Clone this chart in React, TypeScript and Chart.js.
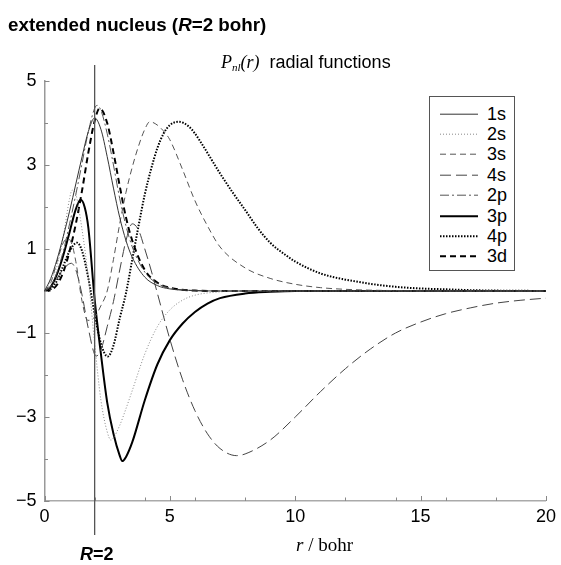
import React, { useEffect, useRef } from "react";
import { Chart, registerables } from "chart.js";
Chart.register(...registerables);

// ---- tick values ----
const xTicks = [0, 5, 10, 15, 20];
const xMinorTicks = [2, 4, 6, 8, 12, 14, 16, 18];
const yTicks = [-5, -3, -1, 1, 3, 5];
const yMinorTicks = [-4, -2, 0, 2, 4];
const nucleusR = 2;

const seriesNames = ["1s", "2s", "3s", "4s", "2p", "3p", "4p", "3d"];

// ---- radial functions P_nl(r) (r in bohr) ----
const r1s = [0, 0.25, 0.5, 0.75, 1, 1.25, 1.5, 1.75, 2, 2.25, 2.5, 2.75, 3, 3.25, 3.5, 4, 4.5, 5, 6, 7, 20];
const p1s = [0, 0.3, 0.75, 1.3, 1.9, 2.55, 3.2, 3.8, 4.12, 3.85, 3.2, 2.45, 1.75, 1.2, 0.8, 0.33, 0.13, 0.05, 0.01, 0, 0];

const r2s = [0, 0.25, 0.5, 0.75, 1, 1.1, 1.25, 1.5, 1.75, 2, 2.25, 2.5, 2.65, 2.75, 3, 3.25, 3.5, 4, 4.5, 5, 5.5, 6, 7, 8, 20];
const p2s = [0, 0.25, 0.6, 1.3, 2.2, 2.4, 2.3, 1.45, 0.3, -1.25, -2.6, -3.35, -3.55, -3.5, -3.2, -2.8, -2.37, -1.5, -0.85, -0.45, -0.22, -0.1, -0.02, 0, 0];

const r3s = [0, 0.25, 0.5, 0.75, 0.94, 1.1, 1.25, 1.5, 1.73, 2, 2.25, 2.5, 2.75, 3, 3.25, 3.5, 3.75, 4, 4.2, 4.5, 4.83, 5, 5.5, 6, 6.5, 7, 8, 9, 10, 11, 12, 13, 14, 15, 20];
const p3s = [0, 0.2, 0.7, 1.15, 1.25, 1.1, 0.7, -0.25, -0.7, -0.62, -0.35, 0.0, 0.75, 1.6, 2.35, 2.95, 3.45, 3.85, 4.03, 3.95, 3.75, 3.6, 2.9, 2.15, 1.55, 1.05, 0.55, 0.3, 0.16, 0.08, 0.04, 0.02, 0.01, 0, 0];

const r4s = [0, 0.25, 0.5, 0.75, 1.07, 1.25, 1.5, 1.75, 2.06, 2.25, 2.5, 2.75, 3, 3.25, 3.5, 3.75, 4, 4.25, 4.5, 5, 5.5, 6, 6.5, 7, 7.66, 8, 9, 10, 11, 12, 13, 14, 15, 16, 17, 18, 19, 20];
const p4s = [0, 0.1, 0.3, 0.52, 0.66, 0.5, -0.1, -0.9, -1.55, -1.4, -0.85, -0.25, 0.5, 1.2, 1.6, 1.45, 1.0, 0.5, -0.05, -1.15, -2.1, -2.85, -3.4, -3.75, -3.92, -3.88, -3.55, -3.0, -2.4, -1.85, -1.38, -1.0, -0.74, -0.54, -0.4, -0.29, -0.22, -0.17];

const r2p = [0, 0.25, 0.5, 0.75, 1, 1.25, 1.5, 1.75, 2, 2.1, 2.25, 2.5, 2.75, 3, 3.25, 3.5, 4, 4.5, 5, 6, 7, 20];
const p2p = [0, 0.12, 0.45, 0.95, 1.6, 2.3, 3.05, 3.8, 4.35, 4.42, 4.3, 3.75, 3.0, 2.2, 1.55, 1.05, 0.45, 0.18, 0.07, 0.01, 0, 0];

const r3p = [0, 0.25, 0.5, 0.75, 1, 1.25, 1.44, 1.6, 1.75, 2, 2.25, 2.5, 2.75, 3, 3.1, 3.25, 3.5, 4, 4.5, 5, 5.5, 6, 6.5, 7, 8, 9, 10, 20];
const p3p = [0, 0.1, 0.4, 0.85, 1.4, 1.95, 2.17, 2.0, 1.5, -0.2, -1.5, -2.65, -3.4, -3.92, -4.05, -3.95, -3.6, -2.6, -1.75, -1.17, -0.78, -0.5, -0.3, -0.17, -0.06, -0.02, 0, 0];

const r4p = [0, 0.25, 0.5, 0.75, 1, 1.3, 1.5, 1.75, 2, 2.25, 2.52, 2.75, 3, 3.25, 3.5, 3.75, 4, 4.25, 4.5, 4.75, 5, 5.36, 5.75, 6, 6.34, 7, 7.5, 8, 8.5, 9, 9.7, 10, 11, 12, 12.5, 13, 14, 15, 16, 17, 18, 20];
const p4p = [0, 0.05, 0.25, 0.6, 0.95, 1.15, 0.95, 0.3, -0.55, -1.25, -1.56, -1.3, -0.65, -0.05, 0.75, 1.55, 2.3, 2.9, 3.4, 3.75, 3.95, 4.03, 3.92, 3.75, 3.44, 2.8, 2.35, 1.93, 1.5, 1.15, 0.82, 0.7, 0.42, 0.27, 0.22, 0.17, 0.1, 0.06, 0.04, 0.02, 0.01, 0];

const r3d = [0, 0.25, 0.5, 0.75, 1, 1.25, 1.5, 1.75, 2, 2.2, 2.5, 2.75, 3, 3.25, 3.5, 4, 4.5, 5, 6, 7, 20];
const p3d = [0, 0.02, 0.15, 0.45, 0.95, 1.6, 2.4, 3.3, 4.05, 4.35, 4.0, 3.3, 2.5, 1.75, 1.2, 0.5, 0.2, 0.08, 0.01, 0, 0];

const seriesR = [r1s, r2s, r3s, r4s, r2p, r3p, r4p, r3d];
const seriesP = [p1s, p2s, p3s, p4s, p2p, p3p, p4p, p3d];

// ---- styles ----
const lineStyles = [
  { color: "#333", width: 1, dash: [] as number[] },
  { color: "#888", width: 1, dash: [1, 2] },
  { color: "#555", width: 1, dash: [6, 4] },
  { color: "#444", width: 1, dash: [11, 5] },
  { color: "#555", width: 1, dash: [9, 3, 2, 3] },
  { color: "#000", width: 2, dash: [] as number[] },
  { color: "#000", width: 2, dash: [1.5, 1.5] },
  { color: "#000", width: 2, dash: [6, 4] },
];

const SANS = "'Liberation Sans', Arial, Helvetica, sans-serif";
const SERIF = "'Liberation Serif', 'Times New Roman', serif";

const fmt = (v: number) => (v < 0 ? "\u2212" + Math.abs(v) : String(v));

const decorPlugin = {
  id: "decor",
  afterDatasetsDraw(chart: any) {
    const { ctx, chartArea, scales } = chart;
    const x = scales.x;
    const y = scales.y;
    ctx.save();
    ctx.strokeStyle = "#888";
    ctx.lineWidth = 1;
    const yt = (v: number, len: number) => {
      const py = Math.round(y.getPixelForValue(v)) + 0.5;
      ctx.beginPath();
      ctx.moveTo(chartArea.left, py);
      ctx.lineTo(chartArea.left + len, py);
      ctx.stroke();
    };
    const xt = (v: number, len: number) => {
      const px = Math.round(x.getPixelForValue(v)) + 0.5;
      ctx.beginPath();
      ctx.moveTo(px, chartArea.bottom);
      ctx.lineTo(px, chartArea.bottom - len);
      ctx.stroke();
    };
    yTicks.forEach((v) => yt(v, 5));
    yMinorTicks.forEach((v) => yt(v, 3.5));
    xTicks.forEach((v) => xt(v, 5));
    xMinorTicks.forEach((v) => xt(v, 3.5));
    // nucleus radius line
    const px = x.getPixelForValue(nucleusR);
    ctx.strokeStyle = "#555";
    ctx.lineWidth = 1.3;
    ctx.beginPath();
    ctx.moveTo(px, chartArea.top - 16);
    ctx.lineTo(px, chartArea.bottom + 34);
    ctx.stroke();
    ctx.restore();
  },
};

export default function App() {
  const ref = useRef<HTMLCanvasElement>(null);

  useEffect(() => {
    if (!ref.current) return;
    const datasets = seriesNames.map((name, i) => ({
      label: name,
      data: seriesR[i].map((r, j) => ({ x: r, y: seriesP[i][j] })),
      borderColor: lineStyles[i].color,
      borderWidth: lineStyles[i].width,
      borderDash: lineStyles[i].dash,
      pointRadius: 0,
      fill: false,
      cubicInterpolationMode: "monotone" as const,
    }));
    const chart = new Chart(ref.current, {
      type: "line",
      data: { datasets },
      options: {
        animation: false,
        responsive: false,
        maintainAspectRatio: false,
        layout: { padding: { top: 81, right: 10, left: 0, bottom: 0 } },
        plugins: {
          legend: { display: false },
          title: { display: false },
          tooltip: { enabled: false },
        },
        scales: {
          x: {
            type: "linear",
            min: 0,
            max: 20,
            afterBuildTicks: (s: any) => {
              s.ticks = xTicks.map((v) => ({ value: v }));
            },
            afterFit: (s: any) => {
              s.height = 64;
            },
            grid: { display: false, drawTicks: false },
            border: { display: true, color: "#aaa", width: 1.5 },
            ticks: {
              font: { family: SANS, size: 18 },
              color: "#000",
              padding: 5,
              maxRotation: 0,
              autoSkip: false,
            },
          },
          y: {
            type: "linear",
            min: -5,
            max: 5,
            afterBuildTicks: (s: any) => {
              s.ticks = yTicks.map((v) => ({ value: v }));
            },
            afterFit: (s: any) => {
              s.width = 44.5;
            },
            grid: { display: false, drawTicks: false },
            border: { display: true, color: "#999", width: 1.5 },
            ticks: {
              font: { family: SANS, size: 18 },
              color: "#000",
              padding: 8,
              autoSkip: false,
              callback: (v: any) => fmt(Number(v)),
            },
          },
        },
      },
      plugins: [decorPlugin],
    });
    return () => chart.destroy();
  }, []);

  const legendTop = 95.5;
  const rowH = 20.4;

  return (
    <div
      style={{
        position: "fixed",
        left: 0,
        top: 0,
        width: 561,
        height: 565,
        background: "#fff",
        overflow: "hidden",
      }}
    >
      <canvas ref={ref} width={561} height={565} style={{ position: "absolute", left: 0, top: 0 }} />
      <div
        style={{
          position: "absolute",
          left: 8,
          top: 14,
          font: `bold 18.8px ${SANS}`,
          whiteSpace: "nowrap",
          color: "#000",
        }}
      >
        extended nucleus (<i>R</i>=2 bohr)
      </div>
      <div
        style={{
          position: "absolute",
          left: 221,
          top: 52,
          whiteSpace: "nowrap",
          color: "#000",
          lineHeight: "20px",
        }}
      >
        <span style={{ font: `italic 18px ${SERIF}` }}>
          P<sub style={{ fontSize: 11, verticalAlign: "-3px" }}>nl</sub>(r)
        </span>
        <span style={{ font: `18px ${SANS}` }}>&nbsp; radial functions</span>
      </div>
      <div
        style={{
          position: "absolute",
          left: 296,
          top: 534,
          font: `19px ${SERIF}`,
          whiteSpace: "nowrap",
          color: "#000",
        }}
      >
        <i>r</i> / bohr
      </div>
      <div
        style={{
          position: "absolute",
          left: 80,
          top: 544,
          font: `bold 18px ${SANS}`,
          whiteSpace: "nowrap",
          color: "#000",
        }}
      >
        <i>R</i>=2
      </div>
      <div
        style={{
          position: "absolute",
          left: 429,
          top: legendTop,
          width: 86,
          height: 175,
          boxSizing: "border-box",
          border: "1px solid #555",
          background: "#fff",
        }}
      >
        {seriesNames.map((name, i) => (
          <div
            key={name}
            style={{
              position: "absolute",
              left: 0,
              top: 7 + i * rowH,
              height: rowH,
              width: 84,
            }}
          >
            <svg width={50} height={rowH} style={{ position: "absolute", left: 0, top: 0 }}>
              <line
                x1={10}
                x2={48}
                y1={rowH / 2}
                y2={rowH / 2}
                stroke={lineStyles[i].color}
                strokeWidth={lineStyles[i].width}
                strokeDasharray={lineStyles[i].dash.join(",")}
              />
            </svg>
            <span
              style={{
                position: "absolute",
                left: 57,
                top: 0,
                lineHeight: `${rowH}px`,
                font: `18px ${SANS}`,
                color: "#000",
              }}
            >
              {name}
            </span>
          </div>
        ))}
      </div>
    </div>
  );
}
